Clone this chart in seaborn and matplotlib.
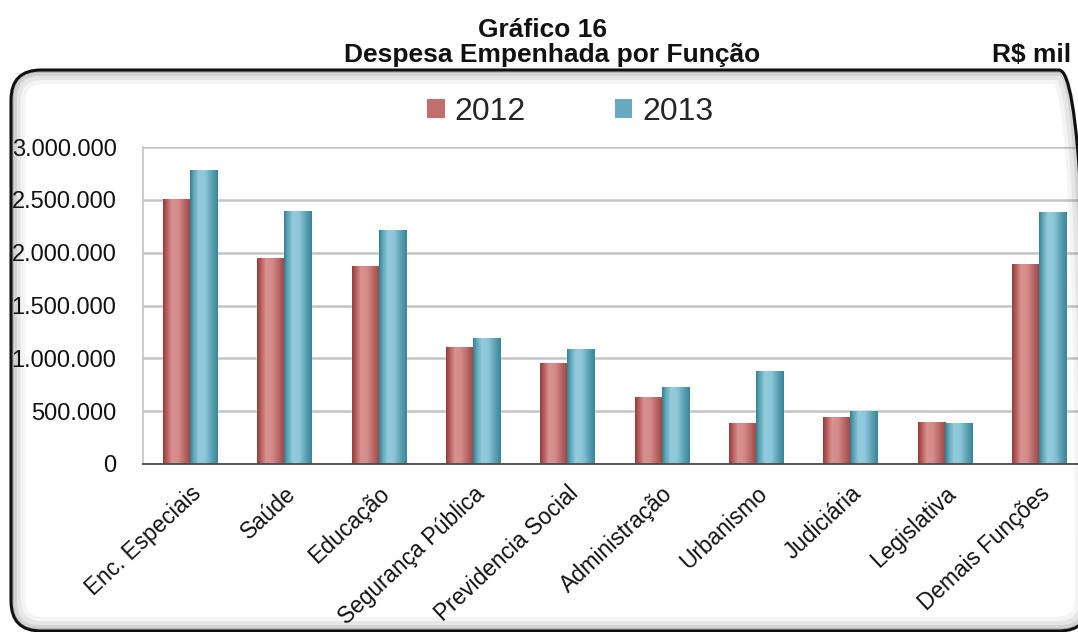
import numpy as np
import pandas as pd
import matplotlib
matplotlib.use("Agg")
import matplotlib.pyplot as plt
import matplotlib.patches as mpatches
import matplotlib.transforms as mtransforms
from matplotlib.colors import to_rgb
from matplotlib.ticker import FuncFormatter, FixedLocator
import seaborn as sns

# Despesa empenhada por função (R$ mil)
categorias = ["Enc. Especiais", "Saúde", "Educação", "Segurança Pública",
              "Previdencia Social", "Administração", "Urbanismo", "Judiciária",
              "Legislativa", "Demais Funções"]
despesa_2012 = [2507000, 1949000, 1873000, 1100000, 949000, 627000, 388000,
                438000, 397000, 1892000]
despesa_2013 = [2781000, 2394000, 2210000, 1185000, 1081000, 722000, 876000,
                498000, 388000, 2384000]
anos = ["2012", "2013"]
y_ticks = [0, 500000, 1000000, 1500000, 2000000, 2500000, 3000000]

df = pd.DataFrame({
    "Função": categorias * 2,
    "Ano": [anos[0]] * len(categorias) + [anos[1]] * len(categorias),
    "Despesa": despesa_2012 + despesa_2013,
})

base_cores = {"2012": "#c26f6d", "2013": "#66abc0"}
# cylinder-like shading across each bar: (position, colour)
gradientes = {
    "2012": [(0.0, "#973c3a"), (0.12, "#b25a58"), (0.32, "#d99291"),
             (0.55, "#d38b8a"), (0.8, "#b46462"), (1.0, "#9d4542")],
    "2013": [(0.0, "#35808f"), (0.12, "#5da4b8"), (0.32, "#93cbdc"),
             (0.55, "#8cc6d8"), (0.8, "#5a9fb3"), (1.0, "#3b8599")],
}

sns.set_style("white")
plt.rcParams["font.family"] = ["Liberation Sans", "DejaVu Sans"]

W, H = 1078, 632
fig = plt.figure(figsize=(W / 100, H / 100), dpi=100)
fig.patch.set_facecolor("white")

# rounded frame with soft inner shadow, in pixel coordinates
px = mtransforms.IdentityTransform()
fx0, fy0, fw, fh = 11, 1, 1078, 561
for lw, a in [(14, 0.05), (10, 0.07), (6, 0.10), (3, 0.16)]:
    fig.patches.append(mpatches.FancyBboxPatch(
        (fx0 + lw / 2, fy0 + lw / 2), fw - lw, fh - lw,
        boxstyle="round,pad=0,rounding_size=26", transform=px,
        facecolor="none", edgecolor=(0.2, 0.2, 0.2, a), linewidth=lw * 0.72,
        zorder=0))
fig.patches.append(mpatches.FancyBboxPatch(
    (fx0, fy0), fw, fh, boxstyle="round,pad=0,rounding_size=30",
    transform=px, facecolor="none", edgecolor="#111111", linewidth=2.2,
    zorder=1))

ax = fig.add_axes([143 / W, 1 - 464 / H, 943 / W, 317 / H])
ax.set_facecolor("none")

sns.barplot(data=df, x="Função", y="Despesa", hue="Ano", order=categorias,
            hue_order=anos, palette=base_cores, width=0.573, gap=0,
            saturation=1, ax=ax, legend=False, zorder=3)

# shaded fill for each bar
for patch in list(ax.patches):
    rgb = to_rgb(patch.get_facecolor())
    ano = min(anos, key=lambda k: np.sum((np.array(to_rgb(base_cores[k])) - rgb) ** 2))
    stops = gradientes[ano]
    pos = np.array([s[0] for s in stops])
    cols = np.array([to_rgb(s[1]) for s in stops])
    t = np.linspace(0, 1, 64)
    img = np.stack([np.interp(t, pos, cols[:, c]) for c in range(3)], axis=-1)[None, :, :]
    x0 = patch.get_x()
    w = patch.get_width()
    h = patch.get_height()
    ax.imshow(img, extent=[x0, x0 + w, 0, h], aspect="auto", zorder=3.5,
              interpolation="bilinear")
ax.set_xlim(-0.5, len(categorias) - 0.5)
ax.set_ylim(0, 3000000)

# axes styling
ax.yaxis.set_major_locator(FixedLocator(y_ticks))
ax.yaxis.set_major_formatter(FuncFormatter(lambda v, p: f"{int(v):,}".replace(",", ".")))
ax.grid(axis="y", color="#c4c4c4", linewidth=1.8, zorder=0)
ax.grid(axis="x", visible=False)
for s in ["top", "right"]:
    ax.spines[s].set_visible(False)
ax.spines["left"].set_color("#c4c4c4")
ax.spines["left"].set_linewidth(1.2)
ax.spines["bottom"].set_color("#4a4a4a")
ax.spines["bottom"].set_linewidth(1.3)
ax.spines["bottom"].set_zorder(5)
ax.tick_params(axis="y", length=7, width=1.8, color="#c4c4c4", pad=12,
               labelsize=17, labelcolor="#111111")
ax.set_xticks(np.arange(len(categorias)))
ax.set_xticks(np.arange(len(categorias) + 1) - 0.5, minor=True)
ax.tick_params(axis="x", which="major", length=0, pad=13, labelsize=16.3,
               labelcolor="#111111")
ax.tick_params(axis="x", which="minor", length=6, width=1.3, color="#4a4a4a")
ax.set_xticklabels(categorias, rotation=43, ha="right", rotation_mode="anchor")
ax.set_xlabel("")
ax.set_ylabel("")

# legend
handles = [mpatches.Patch(facecolor=base_cores[a], edgecolor="none") for a in anos]
fig.legend(handles, anos, loc="center", bbox_to_anchor=(570 / W, 1 - 112 / H),
           ncol=2, frameon=False, fontsize=23, handlelength=0.55,
           handleheight=0.55, handletextpad=0.3, columnspacing=2.8)

# titles
fig.text(543 / W, 1 - 30 / H, "Gráfico 16", ha="center", va="center",
         fontsize=19, fontweight="bold", color="#111111")
fig.text(552 / W, 1 - 55 / H, "Despesa Empenhada por Função", ha="center",
         va="center", fontsize=19, fontweight="bold", color="#111111")
fig.text(1071 / W, 1 - 55 / H, "R$ mil", ha="right", va="center",
         fontsize=19, fontweight="bold", color="#111111")

fig.savefig("out.png", dpi=100)
